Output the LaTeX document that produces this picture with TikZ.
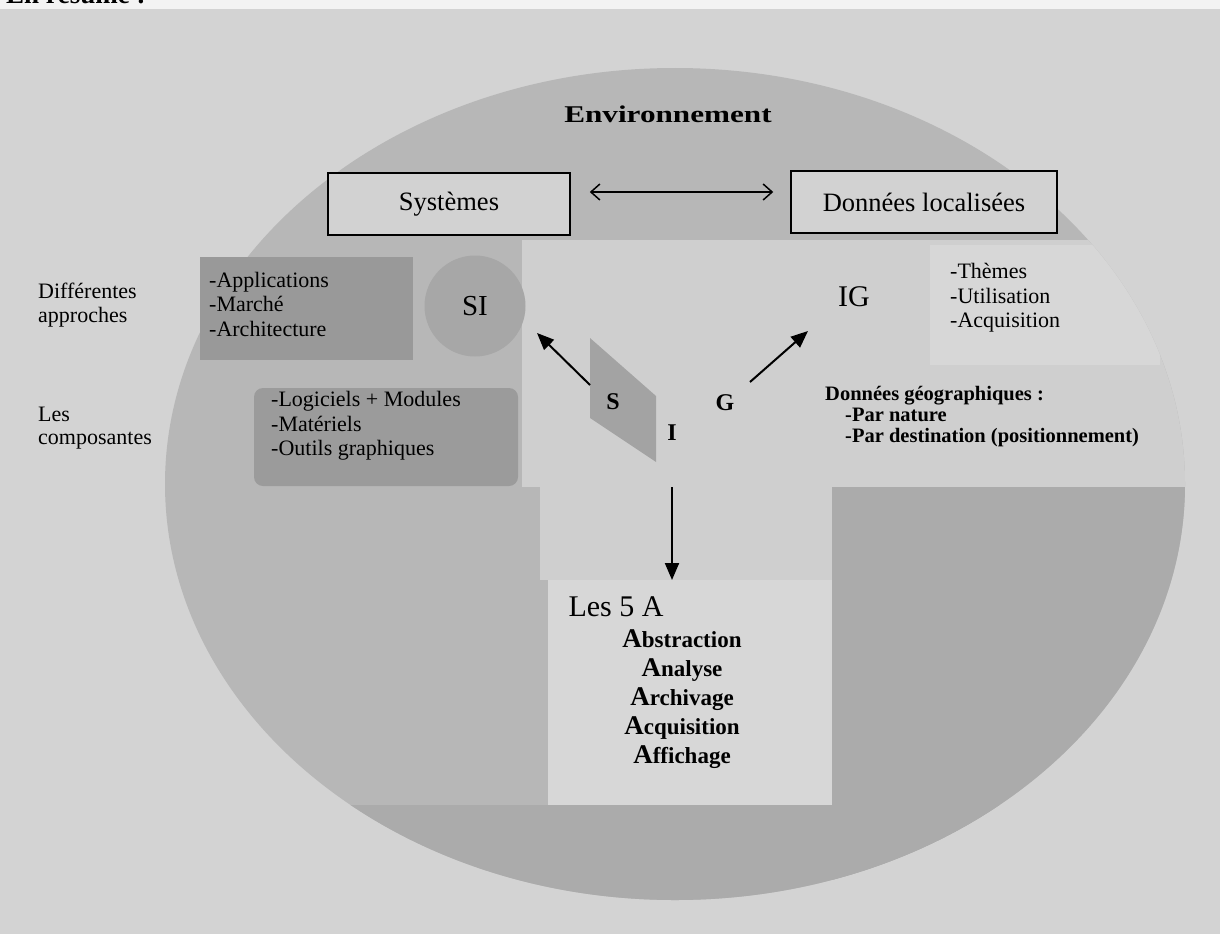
\documentclass[tikz,border=0pt]{standalone}
\usepackage{fontspec}
\setmainfont{Liberation Serif}
\usepackage{graphicx}
\usetikzlibrary{arrows.meta}

\definecolor{paper}{HTML}{F3F3F3}
\definecolor{ground}{HTML}{D3D3D3}
\definecolor{envgray}{HTML}{B7B7B7}
\definecolor{lightzone}{HTML}{CFCFCF}
\definecolor{lightbox}{HTML}{D7D7D7}
\definecolor{deepzone}{HTML}{ABABAB}
\definecolor{boxfill}{HTML}{D2D2D2}
\definecolor{approach}{HTML}{999999}
\definecolor{compo}{HTML}{9B9B9B}
\definecolor{sidisc}{HTML}{A7A7A7}
\definecolor{wedge}{HTML}{A3A3A3}

\newcommand\fsz[2]{\fontsize{#1}{#2}\selectfont}
\newcommand\capA{{\fsz{27}{29}A}}

\begin{document}
\begin{tikzpicture}[x=1pt, y=-1pt,
  every node/.style={inner sep=0pt, text=black},
  frame/.style={draw=black, line width=1.5pt, fill=boxfill, font=\fsz{26.5}{30}},
  item list/.style={align=left, font=\fsz{22}{24.5}},
  side note/.style={align=left, font=\fsz{22}{23.5}},
  letter/.style={font=\fsz{24}{26}\bfseries},
  pointer/.style={-{Triangle[length=17pt,width=14pt]}, line width=2pt},
  twoway/.style={{Straight Barb[length=9pt,width=16pt]}-{Straight Barb[length=9pt,width=16pt]}, line width=1.5pt}]

\useasboundingbox (0,0) rectangle (1220,934);
\clip (0,0) rectangle (1220,934);

% page and grey ground
\fill[ground] (0,0) rectangle (1220,934);
\fill[paper] (0,0) rectangle (1220,9);
\node[anchor=base west, font=\fsz{27}{30}\bfseries] (resume) at (6,4) {En résumé :};

% the environment ellipse and its inner tones
\fill[envgray] (675,484) ellipse [x radius=510, y radius=416];
\begin{scope}
  \clip (675,484) ellipse [x radius=510, y radius=416];
  \fill[lightzone] (522,240) rectangle (1190,487);
  \fill[lightzone] (540,487) rectangle (832,580);
  \fill[deepzone] (832,487) rectangle (1190,934);
  \fill[deepzone] (0,805) rectangle (1220,934);
  \fill[lightbox] (548,580) rectangle (832,805);
  \fill[lightbox] (930,245) rectangle (1160,365);
\end{scope}

\node[font=\fsz{24}{28}\bfseries] (env) at (668,114) {\scalebox{1.3}[1]{Environnement}};

% framed boxes
\node[frame, minimum width=242pt, minimum height=62pt] (sys) at (449,204) {Systèmes};
\node[frame, minimum width=266pt, minimum height=62pt] (don) at (924,202) {Données localisées};
\draw[twoway] ([shift={(19,-12)}]sys.east) -- ([shift={(-17,-10)}]don.west);

% left column
\node[side note, anchor=west] (appr) at (38,305) {Différentes\\approches};
\node[side note, anchor=west] (comp) at (38,428) {Les\\composantes};

\node[fill=approach, minimum width=213pt, minimum height=103pt] (appbox) at (306.5,308.5) {};
\node[item list, anchor=west] (apptxt) at (209,304) {-Applications\\-Marché\\-Architecture};

\node[fill=compo, rounded corners=9pt, minimum width=264pt, minimum height=98pt] (compbox) at (386,437) {};
\node[item list, anchor=west] (comptxt) at (271,426) {-Logiciels + Modules\\-Matériels\\-Outils graphiques};

\node[circle, fill=sidisc, minimum size=101pt, font=\fsz{29}{32}] (si) at (475,306) {SI};

% S I G core
\fill[wedge] (590,338) -- (590,418) -- (656,462) -- (656,396) -- cycle;
\node[letter] (s) at (613,402) {S};
\node[letter] (g) at (725,403) {G};
\node[letter] (i) at (672,433) {I};

% right column
\node[font=\fsz{30}{34}] (ig) at (854,297) {IG};
\node[item list, anchor=west] (themes) at (950,298) {-Thèmes\\-Utilisation\\-Acquisition};
\node[anchor=west, align=left, font=\fsz{20.5}{21}\bfseries] (geo) at (825,417)
  {Données géographiques :\\\hspace*{20pt}-Par nature\\\hspace*{20pt}-Par destination (positionnement)};

% the five A
\node[font=\fsz{30}{34}] (les5a) at (616,607) {Les 5 A};
\node[align=center, font=\fsz{23}{29}\bfseries] (fivea) at (682,699)
  {\capA bstraction\\\capA nalyse\\\capA rchivage\\\capA cquisition\\\capA ffichage};

% arrows
\draw[pointer] ([shift={(-23,-17)}]s.center) -- ([shift={(62,27)}]si.center);
\draw[pointer] ([shift={(25,-21)}]g.center) -- ([shift={(-46,34)}]ig.center);
\draw[pointer] ([shift={(0,54)}]i.center) -- ([shift={(56,-27)}]les5a.center);
\end{tikzpicture}
\end{document}
